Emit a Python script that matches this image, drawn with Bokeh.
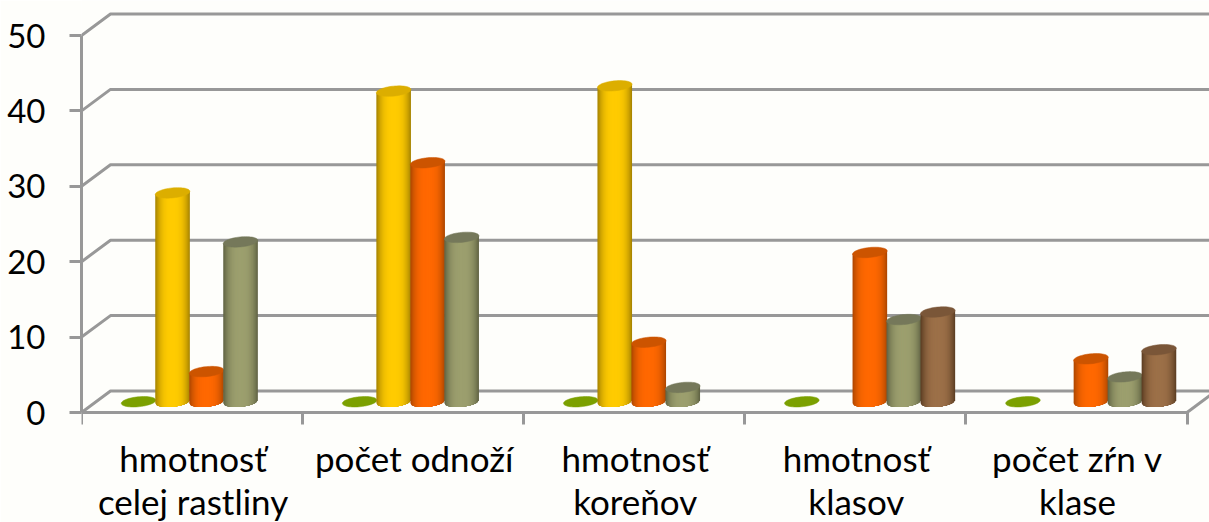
import numpy as np
from bokeh.plotting import figure
from bokeh.models import FixedTicker
from bokeh.core.properties import value
from bokeh.embed import file_html
from bokeh.resources import INLINE

categories = ["hmotnosť\ncelej rastliny", "počet odnoží", "hmotnosť\nkoreňov", "hmotnosť\nklasov", "počet zŕn v\nklase"]
series_green = [0, 0, 0, 0, 0]
series_yellow = [27.7, 41.2, 41.9, None, None]
series_orange = [4.0, 31.7, 7.9, 19.8, 5.7]
series_olive = [21.2, 21.8, 1.9, 10.9, 3.3]
series_brown = [None, None, None, 11.9, 6.9]
y_ticks = [0, 10, 20, 30, 40, 50]

FONT = "Lato"
BG = "#fefefb"
AXIS = "#989898"
PX_X = 1 / 221.1
PX_Y = 1 / 7.54
DEPTH_X = 29 * PX_X
DEPTH_Y = 21.5 * PX_Y

styles = [
    (series_green, "#7ba000", "#7ba000", "#7ba000"),
    (series_yellow, "#ffcb00", "#a98600", "#dcae00"),
    (series_orange, "#ff6800", "#b04800", "#cc5400"),
    (series_olive, "#9c9f6e", "#626545", "#75785a"),
    (series_brown, "#9c7048", "#5e3f24", "#7a5638"),
]

p = figure(width=1209, height=522, output_backend="svg", toolbar_location=None,
           x_range=(0, 1128 * PX_X), y_range=(-110 * PX_Y, 412 * PX_Y),
           min_border_left=81, min_border_right=0, min_border_top=0, min_border_bottom=0,
           background_fill_color=BG, border_fill_color=BG, outline_line_color=None)
p.grid.visible = False

# walls
xlast = len(categories)
for v in y_ticks:
    p.line([0, DEPTH_X, 1128 * PX_X], [v, v + DEPTH_Y, v + DEPTH_Y], line_color=AXIS, line_width=3)
p.line([xlast, xlast + DEPTH_X], [0, DEPTH_Y], line_color=AXIS, line_width=3)


def hexrgb(c):
    return np.array([int(c[i:i + 2], 16) for i in (1, 3, 5)], float)


def mix(a, b, t):
    c = hexrgb(a) * (1 - t) + hexrgb(b) * t
    return "#%02x%02x%02x" % tuple(int(round(x)) for x in c)


def draw(cat, ser, val, mid, edge, top):
    cx = cat + 0.5 + (ser - 2) * 34 * PX_X + DEPTH_X / 2
    rx = 17.3 * PX_X
    ry = 5.0 * PX_Y
    tilt = 1.6 * PX_Y
    base = DEPTH_Y / 2
    yt = base + val
    t = np.linspace(0, 2 * np.pi, 60)
    if val > 0:
        # nested shapes, widest and darkest first: a smooth cylinder shading
        for w in np.linspace(1, 0.04, 18):
            u = np.linspace(-w, w, 24)
            xs = cx + rx * u
            ys = base - ry * np.sqrt(1 - u * u) + tilt * u
            px = list(xs) + [cx + rx * w, cx - rx * w]
            py = list(ys) + [yt + tilt * w, yt - tilt * w]
            col = mix(mid, edge, min(1.0, w ** 3))
            p.patch(px, py, fill_color=col, line_color=None)
    ex = cx + rx * np.cos(t)
    ey = yt + ry * np.sin(t) + tilt * np.cos(t)
    p.patch(list(ex), list(ey), fill_color=top, line_color=top, line_width=0.5)


for c in range(len(categories)):
    for s, (vals, mid, edge, top) in enumerate(styles):
        if vals[c] is not None:
            draw(c, s, vals[c], mid, edge, top)

# axes
ya = p.yaxis[0]
ya.ticker = FixedTicker(ticks=y_ticks)
ya.bounds = (0, 50)
ya.axis_line_color = AXIS
ya.axis_line_width = 3
ya.major_tick_line_color = AXIS
ya.major_tick_line_width = 3
ya.major_tick_out = 12
ya.major_tick_in = 0
ya.minor_tick_out = 0
ya.minor_tick_in = 0
ya.major_label_standoff = 24
ya.major_label_text_font = FONT
ya.major_label_text_font_size = "33px"
ya.major_label_text_color = "#000000"

xa = p.xaxis[0]
xa.fixed_location = 0
xa.ticker = FixedTicker(ticks=list(range(len(categories) + 1)))
xa.bounds = (0, xlast)
xa.axis_line_color = AXIS
xa.axis_line_width = 3
xa.major_tick_out = 12
xa.major_tick_in = 0
xa.minor_tick_out = 0
xa.minor_tick_in = 0
xa.major_tick_line_color = AXIS
xa.major_tick_line_width = 3
xa.major_label_text_font_size = "0px"
xa.major_label_text_color = None

# category labels, one text per line
lx, ly, lt = [], [], []
for i, cat in enumerate(categories):
    for j, line in enumerate(cat.split("\n")):
        lx.append(i + 0.5 + 1.0 * PX_X)
        ly.append((412 - 457 - 43 * j) * PX_Y)
        lt.append(line)
p.text(lx, ly, text=lt, text_align="center", text_baseline="alphabetic",
       text_font=value(FONT), text_font_size="35px", text_color="#000000")

open("out.html", "w").write(file_html(p, INLINE))
